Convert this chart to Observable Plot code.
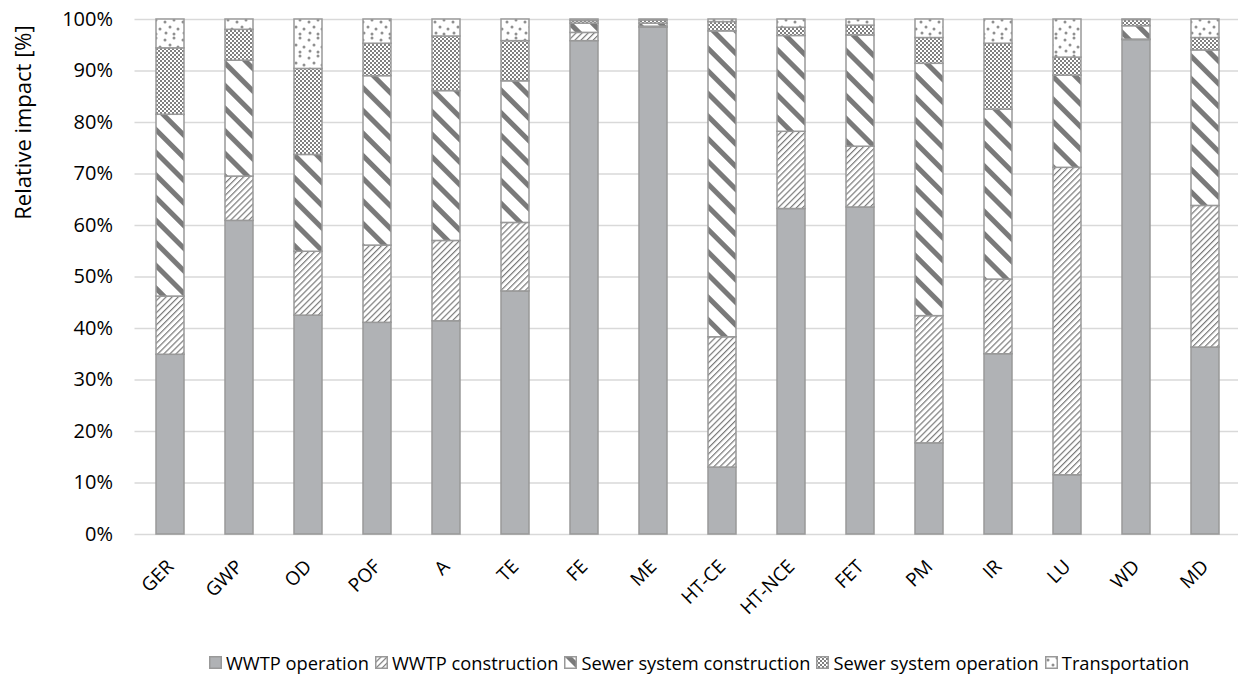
<!DOCTYPE html>
<html><head><meta charset="utf-8">
<script src="https://cdn.jsdelivr.net/npm/d3@7"></script>
<script src="https://cdn.jsdelivr.net/npm/@observablehq/plot@0.6"></script>
<style>
html,body{margin:0;padding:0;background:#fff;overflow:hidden;font-family:"Open Sans",sans-serif;}
#chart svg{max-width:none !important;display:block;}
#legend{width:1238px;box-sizing:border-box;padding-left:160px;display:flex;justify-content:center;align-items:center;font-size:18.3px;color:#000;margin-top:30px;line-height:25px;white-space:nowrap;}
#legend .item{display:flex;align-items:center;margin:0 3px;}
#legend svg{margin-right:4px;}
</style></head><body>
<svg width="0" height="0" style="position:absolute"><defs>
<pattern id="p-wc" patternUnits="userSpaceOnUse" width="4.3" height="10" patternTransform="rotate(45)"><rect width="4.3" height="10" fill="#fff"/><rect x="0" width="1.2" height="10" fill="#7a7a7a"/></pattern>
<pattern id="p-sc" patternUnits="userSpaceOnUse" width="16" height="10" patternTransform="rotate(-45)"><rect width="16" height="10" fill="#fff"/><rect x="0" width="5" height="10" fill="#7a7a7a"/></pattern>
<pattern id="p-so" patternUnits="userSpaceOnUse" width="4" height="4"><rect width="4" height="4" fill="#fff"/><rect width="2" height="2" fill="#808080"/><rect x="2" y="2" width="2" height="2" fill="#808080"/></pattern>
<pattern id="p-tr" patternUnits="userSpaceOnUse" width="18" height="18"><rect width="18" height="18" fill="#fff"/>
<circle cx="3" cy="4" r="1.5" fill="#8f8f8f"/><circle cx="12" cy="2" r="1.5" fill="#8f8f8f"/><circle cx="8" cy="9" r="1.5" fill="#8f8f8f"/><circle cx="16" cy="11" r="1.5" fill="#8f8f8f"/><circle cx="4" cy="15" r="1.5" fill="#8f8f8f"/><circle cx="12" cy="16" r="1.5" fill="#8f8f8f"/></pattern>
</defs></svg>
<div id="chart"></div><div id="legend"></div>
<script>
const categories = ["GER","GWP","OD","POF","A","TE","FE","ME","HT-CE","HT-NCE","FET","PM","IR","LU","WD","MD"];
const seriesNames = ["WWTP operation","WWTP construction","Sewer system construction","Sewer system operation","Transportation"];
const wwtpOperation =      [34.9, 60.9, 42.5, 41.1, 41.4, 47.2, 95.8, 98.4, 13.0, 63.2, 63.5, 17.7, 35.0, 11.5, 96.0, 36.3];
const wwtpConstruction =   [11.3,  8.6, 12.4, 15.0, 15.6, 13.3,  1.6,  0.2, 25.3, 15.0, 11.8, 24.7, 14.5, 59.7,  0.1, 27.5];
const sewerConstruction =  [35.3, 22.5, 18.8, 32.9, 29.1, 27.5,  1.8,  0.6, 59.4, 18.6, 21.6, 49.0, 33.0, 17.9,  2.6, 30.2];
const sewerOperation =     [12.9,  6.0, 16.7,  6.3, 10.6,  7.8,  0.5,  0.6,  1.8,  1.6,  1.9,  5.0, 12.8,  3.5,  1.2,  2.4];
const transportation =     [ 5.6,  2.0,  9.6,  4.7,  3.3,  4.2,  0.3,  0.2,  0.5,  1.6,  1.2,  3.6,  4.7,  7.4,  0.1,  3.6];
const yTicks = [0,10,20,30,40,50,60,70,80,90,100];
const yLabel = "Relative impact [%]";
const fills = ["#b0b2b5","url(#p-wc)","url(#p-sc)","url(#p-so)","url(#p-tr)"];

const seriesValues = [wwtpOperation, wwtpConstruction, sewerConstruction, sewerOperation, transportation];
const data = [];
categories.forEach((c, i) => seriesValues.forEach((vals, j) => data.push({category: c, series: seriesNames[j], value: vals[i]})));

const chart = Plot.plot({
  width: 1238, height: 620,
  marginLeft: 134.5, marginRight: 0, marginTop: 19, marginBottom: 86,
  style: {fontFamily: "'Open Sans', sans-serif", fontSize: "20px", color: "#000", background: "#fff", maxWidth: "none"},
  x: {domain: categories, paddingInner: 0.59, paddingOuter: 0.2705, align: 0.543, axis: null},
  y: {domain: [0, 100], axis: null},
  color: {domain: seriesNames, range: fills},
  marks: [
    Plot.gridY(yTicks, {stroke: "#d9d9d9", strokeOpacity: 1, strokeWidth: 1.5}),
    Plot.axisY(yTicks, {tickSize: 0, tickPadding: 22, tickFormat: d => d + "%", fontSize: 20, fill: "#000", label: null}),
    Plot.barY(data, {x: "category", y: "value", fill: "series", stroke: "#999", strokeWidth: 1.5}),
    Plot.text(categories, {x: d => d, frameAnchor: "bottom", dx: 0, dy: 29, rotate: -45, textAnchor: "end", lineAnchor: "middle", fontSize: 19, fill: "#000"}),
    Plot.text([yLabel], {frameAnchor: "top-left", dx: -111, dy: 103, rotate: -90, textAnchor: "middle", lineAnchor: "middle", fontSize: 22, fill: "#000"})
  ]
});
document.getElementById("chart").appendChild(chart);

const legend = document.getElementById("legend");
seriesNames.forEach((s, j) => {
  const item = document.createElement("div");
  item.className = "item";
  item.innerHTML = `<svg width="13" height="13"><rect x="0.75" y="0.75" width="11.5" height="11.5" fill="${fills[j]}" stroke="#999" stroke-width="1.5"/></svg><span>${s}</span>`;
  legend.appendChild(item);
});
</script>
</body></html>
